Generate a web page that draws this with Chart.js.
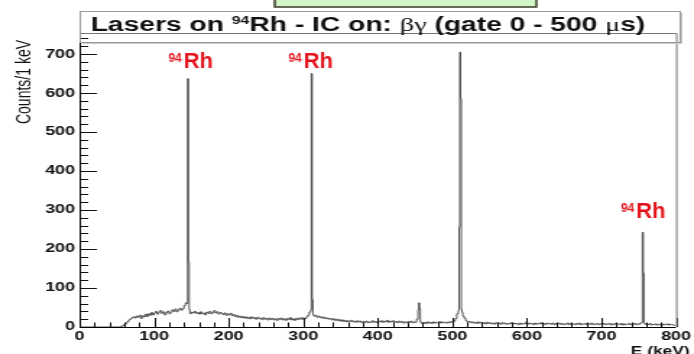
<!DOCTYPE html>
<html>
<head>
<meta charset="utf-8">
<script src="https://cdn.jsdelivr.net/npm/chart.js@4.4.1/dist/chart.umd.min.js"></script>
<style>
  html, body { margin: 0; padding: 0; background: #fff; overflow: hidden; }
  /* the original picture is stretched sideways, so the chart is too */
  #wrap { width: 480px; height: 354px; transform: scaleX(1.445833); transform-origin: 0 0; }
  #spectrum { display: block; }
</style>
</head>
<body>
<div id="wrap"><canvas id="spectrum" width="480" height="354"></canvas></div>
<script>
// Spectrum, 94Rh with lasers on: bin lower edge (keV) and counts per bin
const energy = [
  0, 56, 58, 60, 62, 64, 66, 68, 70, 72, 74, 76, 78, 80, 82, 84, 86, 88, 90, 92, 94, 96, 98,
  100, 102, 104, 106, 108, 110, 112, 114, 116, 118, 120, 122, 124, 126, 128, 130, 132, 134, 136, 138,
  140, 142, 144, 145, 146, 147, 148, 150, 152, 154, 156, 158, 160, 162, 164, 166, 168, 170, 172, 174,
  176, 178, 180, 182, 184, 186, 188, 190, 192, 194, 196, 198, 200, 202, 204, 206, 208, 210, 212, 214,
  216, 218, 220, 222, 224, 226, 228, 230, 232, 234, 236, 238, 240, 242, 244, 246, 248, 250, 252, 254,
  256, 258, 260, 262, 264, 266, 268, 270, 272, 274, 276, 278, 280, 282, 284, 286, 288, 290, 292, 294,
  296, 298, 300, 302, 304, 306, 308, 310, 311, 312, 313, 314, 316, 318, 320, 322, 324, 326, 328, 330,
  332, 334, 336, 338, 340, 342, 344, 346, 348, 350, 352, 354, 356, 358, 360, 362, 364, 366, 368, 370,
  372, 374, 376, 378, 380, 382, 384, 386, 388, 390, 392, 394, 396, 398, 400, 402, 404, 406, 408, 410,
  412, 414, 416, 418, 420, 422, 424, 426, 428, 430, 432, 434, 436, 438, 440, 442, 444, 446, 448, 450,
  452, 454, 455, 456, 457, 458, 460, 462, 464, 466, 468, 470, 472, 474, 476, 478, 480, 482, 484, 486,
  488, 490, 492, 494, 496, 498, 500, 502, 504, 506, 508, 509, 510, 511, 512, 513, 514, 516, 518, 520,
  522, 524, 526, 528, 530, 532, 534, 536, 538, 540, 542, 544, 546, 548, 550, 552, 554, 556, 558, 560,
  562, 564, 566, 568, 570, 572, 574, 576, 578, 580, 582, 584, 586, 588, 590, 592, 594, 596, 598, 600,
  602, 604, 606, 608, 610, 612, 614, 616, 618, 620, 622, 624, 626, 628, 630, 632, 634, 636, 638, 640,
  642, 644, 646, 648, 650, 652, 654, 656, 658, 660, 662, 664, 666, 668, 670, 672, 674, 676, 678, 680,
  682, 684, 686, 688, 690, 692, 694, 696, 698, 700, 702, 704, 706, 708, 710, 712, 714, 716, 718, 720,
  722, 724, 726, 728, 730, 732, 734, 736, 738, 740, 742, 744, 746, 748, 750, 752, 754, 755, 756, 757,
  758, 760, 762, 764, 766, 768, 770, 772, 774, 776, 778, 780, 782, 784, 786, 788, 790, 792, 794, 796,
  798, 800
];
const counts = [
  0, 2, 4, 7, 10, 14, 18, 21, 24, 26, 23, 28, 25, 30, 22, 29, 26, 33, 27, 34, 30, 37, 31,
  36, 40, 33, 38, 42, 35, 39, 31, 37, 41, 34, 38, 44, 40, 46, 39, 44, 48, 43, 47,
  55, 62, 60, 637, 166, 45, 34, 38, 36, 40, 35, 37, 33, 39, 34, 36, 31, 38, 35, 40,
  34, 37, 42, 36, 39, 33, 37, 35, 32, 36, 30, 34, 31, 35, 29, 32, 27, 30, 25, 28,
  24, 27, 23, 26, 22, 25, 21, 26, 22, 24, 20, 25, 21, 23, 19, 24, 20, 22, 18, 23,
  19, 22, 18, 21, 17, 22, 19, 23, 18, 21, 17, 22, 19, 24, 18, 21, 17, 22, 19, 23,
  20, 24, 19, 22, 26, 30, 38, 44, 650, 70, 32, 28, 30, 25, 28, 24, 26, 22, 25, 21,
  23, 20, 22, 18, 21, 17, 20, 16, 19, 15, 18, 14, 17, 13, 16, 14, 17, 13, 15, 12,
  16, 13, 15, 11, 14, 12, 15, 11, 13, 12, 16, 12, 14, 11, 15, 13, 16, 12, 15, 13,
  17, 12, 15, 13, 16, 12, 14, 11, 15, 12, 14, 10, 13, 11, 14, 12, 15, 11, 13, 12,
  20, 45, 62, 48, 14, 10, 8, 12, 9, 13, 10, 12, 9, 13, 10, 12, 11, 14, 10, 13,
  11, 12, 10, 13, 11, 14, 12, 16, 22, 34, 42, 256, 705, 586, 45, 38, 28, 22, 16, 12,
  14, 11, 13, 10, 12, 9, 13, 10, 12, 9, 11, 8, 12, 9, 11, 8, 10, 7, 11, 9,
  10, 7, 11, 8, 10, 7, 9, 8, 11, 7, 10, 8, 9, 6, 10, 7, 9, 8, 12, 7,
  10, 8, 9, 6, 10, 7, 9, 8, 11, 7, 9, 6, 10, 8, 9, 7, 10, 6, 9, 8,
  10, 7, 9, 6, 8, 7, 10, 6, 9, 7, 8, 6, 9, 7, 10, 6, 8, 7, 9, 6,
  8, 7, 10, 6, 8, 7, 9, 6, 8, 7, 9, 6, 8, 7, 9, 5, 8, 6, 9, 7,
  8, 6, 9, 5, 8, 6, 7, 9, 6, 8, 7, 9, 6, 8, 7, 10, 12, 243, 138, 10,
  7, 8, 6, 9, 5, 7, 6, 8, 5, 7, 6, 8, 5, 7, 6, 8, 5, 7, 6, 5,
  4, 4
];

// axes
const xMin = 0, xMax = 800, xMajor = 100, xMinor = 20;
const yMin = 0, yMax = 754, yMajor = 100, yMinor = 20;

// red isotope tags: energy they sit over, count at their baseline
const tagEnergy = [149, 310, 756];
const tagCounts = [664, 664, 279];

const S = 1.445833; // sideways stretch of the picture (see #wrap)
const sans = "'Liberation Sans', Arial, Helvetica, sans-serif";
const serif = "'Liberation Serif', 'Times New Roman', serif";

const spectrumPlugin = {
  id: 'spectrumDecor',
  afterDatasetsDraw(chart) {
    const ctx = chart.ctx;
    const a = chart.chartArea;
    const xs = chart.scales.x, ys = chart.scales.y;
    ctx.save();

    // inward ticks, like ROOT
    ctx.strokeStyle = '#111';
    ctx.lineWidth = 1;
    ctx.beginPath();
    for (let v = yMin; v <= yMax; v += yMinor) {
      const py = Math.round(ys.getPixelForValue(v)) + 0.5;
      const len = v % yMajor === 0 ? 12 : 6;
      ctx.moveTo(a.left, py);
      ctx.lineTo(a.left + len, py);
    }
    for (let v = xMin; v <= xMax; v += xMinor) {
      const px = Math.round(xs.getPixelForValue(v)) + 0.5;
      const len = v % xMajor === 0 ? 9 : 4.5;
      ctx.moveTo(px, a.bottom);
      ctx.lineTo(px, a.bottom - len);
    }
    ctx.stroke();

    // frame
    ctx.strokeStyle = '#777';
    ctx.beginPath();
    ctx.moveTo(a.left, a.top + 0.5);
    ctx.lineTo(a.right + 0.5, a.top + 0.5);
    ctx.lineTo(a.right + 0.5, a.bottom);
    ctx.stroke();
    ctx.strokeStyle = '#000';
    ctx.beginPath();
    ctx.moveTo(a.left + 0.5, a.top);
    ctx.lineTo(a.left + 0.5, a.bottom + 0.5);
    ctx.lineTo(a.right, a.bottom + 0.5);
    ctx.stroke();

    // red 94Rh tags, drawn without the sideways stretch
    ctx.fillStyle = '#e3141c';
    ctx.textBaseline = 'alphabetic';
    ctx.textAlign = 'left';
    tagEnergy.forEach((e, i) => {
      const px = xs.getPixelForValue(e);
      const py = ys.getPixelForValue(tagCounts[i]);
      ctx.save();
      ctx.translate(px, py);
      ctx.scale(1 / S, 1);
      ctx.font = 'bold 12px ' + sans;
      const w1 = ctx.measureText('94').width + 2;
      ctx.font = 'bold 22px ' + sans;
      const w2 = ctx.measureText('Rh').width;
      const x0 = -(w1 + w2) / 2;
      ctx.fillText('Rh', x0 + w1, 0);
      ctx.font = 'bold 12px ' + sans;
      ctx.fillText('94', x0, -6);
      ctx.restore();
    });
    ctx.restore();
  },
  afterDraw(chart) {
    const ctx = chart.ctx;
    ctx.save();

    // green box peeking in at the very top
    ctx.fillStyle = '#d3f6c6';
    ctx.fillRect(190, -2, 181, 9);
    ctx.strokeStyle = '#3a3a2a';
    ctx.lineWidth = 1.5;
    ctx.strokeRect(190, -2, 181, 9);

    // title box
    ctx.strokeStyle = '#9a9a9a';
    ctx.lineWidth = 1;
    ctx.strokeRect(55.5, 11.5, 415, 31);
    ctx.strokeStyle = '#c8c8c8';
    ctx.beginPath();
    ctx.moveTo(57, 43.5);
    ctx.lineTo(471.5, 43.5);
    ctx.lineTo(471.5, 13);
    ctx.stroke();

    // title text with superscript and greek letters
    const parts = [
      { t: 'Lasers on ', f: 'bold 19.5px ' + sans, dy: 0 },
      { t: '94', f: 'bold 11px ' + sans, dy: -7 },
      { t: 'Rh - IC on: ', f: 'bold 19.5px ' + sans, dy: 0 },
      { t: 'βγ', f: '19.5px ' + serif, dy: 0 },
      { t: ' (gate 0 - 500 ', f: 'bold 19.5px ' + sans, dy: 0 },
      { t: 'μ', f: '19.5px ' + serif, dy: 0 },
      { t: 's)', f: 'bold 19.5px ' + sans, dy: 0 }
    ];
    let total = 0;
    parts.forEach(p => { ctx.font = p.f; p.w = ctx.measureText(p.t).width; total += p.w; });
    let x = 368 / S - total / 2;
    ctx.fillStyle = '#111';
    ctx.textAlign = 'left';
    ctx.textBaseline = 'alphabetic';
    parts.forEach(p => {
      ctx.font = p.f;
      ctx.fillText(p.t, x, 30.5 + p.dy);
      x += p.w;
    });

    // axis titles
    ctx.font = '14px ' + sans;
    ctx.save();
    ctx.translate(17.5, 40);
    ctx.rotate(-Math.PI / 2);
    ctx.textAlign = 'right';
    ctx.textBaseline = 'middle';
    ctx.fillText('Counts/1 keV', 0, 0);
    ctx.restore();

    ctx.font = 'bold 12px ' + sans;
    ctx.textAlign = 'right';
    ctx.textBaseline = 'alphabetic';
    ctx.fillText('E (keV)', 477, 355);
    ctx.restore();
  }
};

const ctx = document.getElementById('spectrum').getContext('2d');
const chart = new Chart(ctx, {
  type: 'line',
  data: {
    datasets: [{
      data: energy.map((e, i) => ({ x: e, y: counts[i] })),
      stepped: 'before',
      borderColor: '#3a3a3a',
      borderWidth: 0.85,
      pointRadius: 0,
      fill: false
    }]
  },
  options: {
    responsive: false,
    animation: false,
    devicePixelRatio: 1,
    layout: { padding: { top: 33, right: 12, left: 0, bottom: 0 } },
    plugins: { legend: { display: false }, tooltip: { enabled: false }, title: { display: false } },
    scales: {
      x: {
        type: 'linear',
        min: xMin,
        max: xMax,
        grid: { display: false, drawTicks: false },
        border: { display: false },
        ticks: {
          stepSize: xMajor,
          includeBounds: false,
          autoSkip: false,
          maxRotation: 0,
          padding: 2,
          color: '#111',
          font: { family: sans, size: 12.5, weight: 'bold' }
        },
        afterFit(scale) { scale.height = 27; }
      },
      y: {
        type: 'linear',
        min: yMin,
        max: yMax,
        grid: { display: false, drawTicks: false },
        border: { display: false },
        ticks: {
          stepSize: yMajor,
          includeBounds: false,
          padding: 3,
          color: '#111',
          font: { family: sans, size: 12.5, weight: 'bold' }
        },
        afterFit(scale) { scale.width = 55; }
      }
    }
  },
  plugins: [spectrumPlugin]
});
</script>
</body>
</html>
